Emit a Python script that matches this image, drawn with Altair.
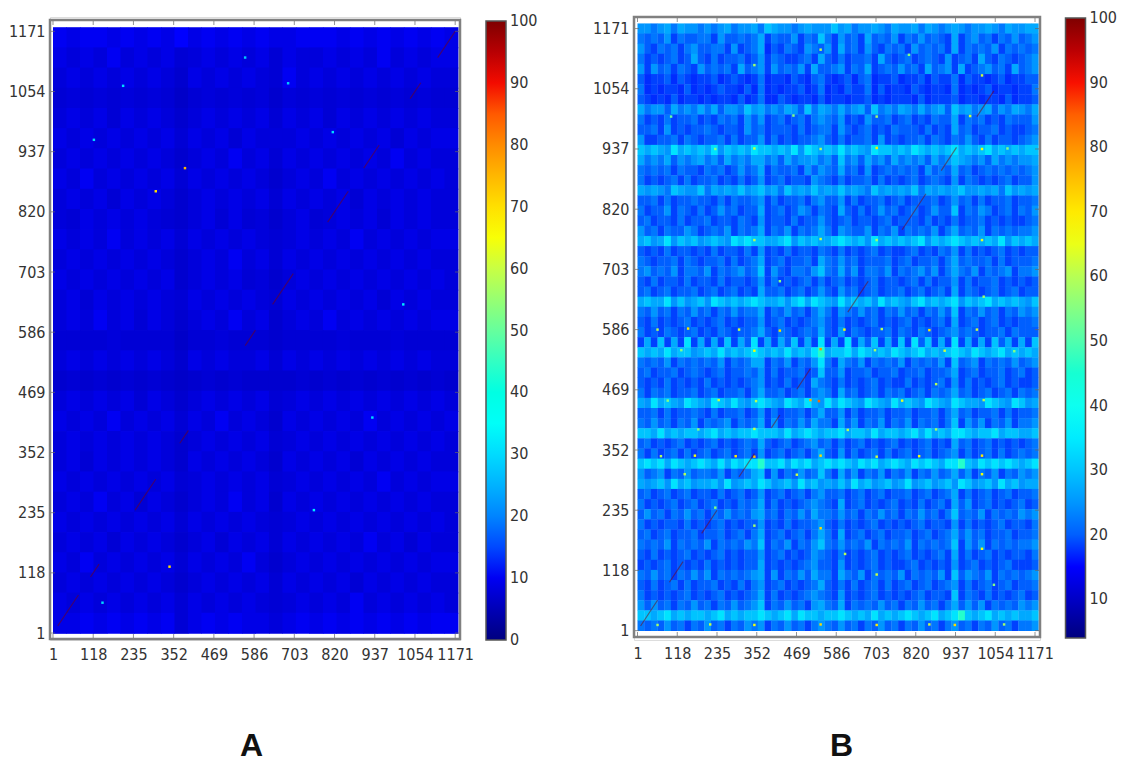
import altair as alt
import pandas as pd

# Jet colormap stops (fraction of the colour range, colour)
JET_FRAC = [0, .11, .125, .35, .375, .64, .66, .89, .91, 1]
JET_COL = ["#00007f", "#0000ff", "#0000ff", "#00fff8", "#0dfff0", "#f0ff0d", "#ffff00", "#ff1500", "#e80000", "#7f0000"]

TICKS = [1, 118, 235, 352, 469, 586, 703, 820, 937, 1054, 1171]
BAR_A = [0.001, 10, 20, 30, 40, 50, 60, 70, 80, 90, 99.999]
BAR_B = [10, 20, 30, 40, 50, 60, 70, 80, 90, 99.999]

# Digit -> percentage identity
LEVEL_A = {"1": 6.5, "2": 7, "3": 7.5, "4": 8, "5": 9, "6": 10, "7": 11, "8": 13, "9": 16}
LEVEL_B = {"1": 17, "2": 18, "3": 20, "4": 22, "5": 25, "6": 27, "7": 30, "8": 34, "9": 46}

# Coarse reading of panel A, top row first
ROWS_A = """
6566565657 5656565566 6565656565
5454645453 4545453544 5454645455
4545454542 5454543645 4545454544
3434343431 3434342434 3434343433
4545354542 4545453545 3545454544
5454545453 5453544454 5454535455
4545454542 4546453545 4545464544
5464545453 5454542454 6454545454
4545354542 4545453545 4535454544
4354545432 4535342453 4545354544
5454645453 5454543454 5464545455
4545454542 4546453545 4545454544
5454545452 4545342454 5454545454
4535454543 5454543545 4545354544
4546453542 4546452454 6454545455
3333433331 3343332333 3433343333
4545454542 5454453545 4545454544
2323232321 2323222232 3232323232
4545453542 4545453454 5454545454
5454645453 5464542545 4546454545
4545454542 4545453454 5454545454
4535454542 5454542545 4535454544
5454545453 4545453454 5454645455
4546453542 4546452545 4545454544
5454545453 5454543454 5454545454
4545354542 4535453545 4546453544
5464545453 5454642454 5454545455
4545454542 4545453545 4535454544
5454545453 5454543454 5464545454
5565656563 5656554565 6565656566
"""

# Coarse reading of panel B, top row first
ROWS_B = """
5545646554 5456455647 6554565557 5645565465 5646545654 5565465566
4343524334 4253343462 4335243742 5342634352 4353432624 5342435345
5324342453 3442523461 3243254352 6342532434 2534342624 3435243434
4232342363 2423342352 4322342632 4233426323 4234325234 2632432345
5253424325 3434263452 5343526334 5243623435 3426345262 3453426345
3122313212 2312321241 2213213421 2313412231 2231322413 2212312233
4121221312 1232213141 2122312412 1322413122 1321221412 1231221224
3212131221 2122131241 1321221312 2122312122 2131222312 2122131223
6455364546 4635547564 5465374654 6456374546 5464563756 4563546546
4232423342 3243425352 3423424543 5232533423 4232433624 3423243335
3342523233 4323325342 3332423442 5323423243 3324232634 2334232234
5223342432 3342423352 4232334532 4233425232 3342432435 3242332345
7676586767 6857676877 6768587676 8676587767 6876767867 6786767677
6454635456 4536454664 5364556453 7453645364 5453645765 4536454556
4343424332 4342353462 4334253543 6342523434 3425343634 2343434345
4232342423 3423242352 3423325432 4233424232 3423432524 3232342335
6565476557 4656575675 6475657565 7565475656 5746565675 5656475656
3342423343 3242433452 4233424533 5242334234 2333423534 2423342334
4233524324 2353423362 3423542432 6324235342 3423533724 3542342435
3423324233 4233243252 3324233532 3423323423 3324232423 3423232234
5342433542 3435243462 4352434642 5433524352 4343524634 3524343445
6756857675 6765878776 6785767667 8767586767 6785767876 7676857676
3232423323 2423324252 3242332432 4232342322 3423243524 2323423233
4323342432 3342423462 3423342643 5342333423 4233424634 3342423334
4534352443 5243453472 5324435743 6352443524 3453524643 5243452445
3242332423 3242332352 4232342423 4232342332 3424233524 2334232323
3423423342 3423423263 3423423532 5342342334 2342342624 3234234233
6766857567 5876767876 6757868765 8676758676 5786767857 6786767657
4353424353 4243534462 4353424642 5435342435 3424353724 3534243545
3242323423 2342323352 3423234532 4232342323 4232342623 4234232334
4232432342 3243233463 2432343632 5243233424 3243234534 3233424333
2627262826 2627263826 2637262826 2826372627 2837262826 2627362627
7676867756 7686767876 7686768967 7868767687 6786767876 8767867676
4343524343 4352434662 4352435842 6435243435 2434352734 5243435345
3423342343 2342334352 4233423733 5233423342 3342334623 4233423423
3232423232 4232323452 3242326432 4232342322 4232342524 2323423223
4243423342 3423342463 3423424542 6342342434 2342434634 2342342434
6586765876 5876865787 6587686586 8765876586 7658765876 6587658756
3342423343 2423342352 4233424633 5242334233 4233424634 2334242334
4353424352 4345243462 5243536442 6352435243 5243424725 3524352445
7768676776 7867677877 7686787677 8677686776 7868676887 6778677667
3423234232 3423234363 2342345342 4234232342 3234232634 2342323234
4242342423 4234234252 3423424632 5242342423 4234234524 2342423434
7878687678 7686878897 7868786787 8768786787 6878768897 6878787678
5345243534 4352434672 5243534742 6352435243 5243534635 2435243545
6567586756 6758567687 5675867565 7586756756 8567567587 5675867566
3423423423 3242342352 3423424533 4234234233 4234234624 2342342334
4232342342 3423243462 4232345432 6234232342 3242342635 2342323423
3534243534 2435343563 4243536443 5342435342 4353424734 3524343545
4232332423 2342323352 3242334532 4232342323 2342332524 2323423324
3423423342 3342342462 3423424642 6234234233 4234234635 3423342334
4343524343 5243435472 4352435743 5343524343 5243434725 3524343445
3242323423 2342323352 3423235432 4232342323 4232342624 2342323324
2323423232 4232323362 3232345332 5232342322 3423232523 4232342223
4353424353 5243434562 5243536442 6435243435 2434352735 4352434345
3242342423 3423242452 3423234632 4242342423 4234234524 2342342334
4232323423 2342323462 4232345432 5232342323 2342332724 3242323423
5353424353 4243534572 4353425643 6243435342 4353424635 3524343545
7767867677 6786767787 6786877677 8767686767 8767867897 6786767667
4343534243 5342435452 4353424543 5342435342 4353424534 2435342445
"""

# Small bright spots seen on the picture: (x, y, value)
SPECKS_A = [(205, 1065, 30), (685, 1070, 28), (120, 960, 30), (385, 905, 75), (300, 860, 70), (815, 975, 30),
            (560, 1120, 28), (1020, 640, 32), (340, 130, 70), (145, 60, 30), (760, 240, 32), (930, 420, 30)]
SPECKS_B = [(60, 586, 60), (150, 588, 70), (300, 586, 62), (420, 584, 72), (610, 586, 66), (720, 587, 60), (860, 585, 70), (1000, 586, 62),
            (130, 546, 55), (345, 545, 66), (540, 548, 80), (700, 546, 58), (905, 545, 62), (1110, 544, 55),
            (90, 448, 55), (240, 449, 62), (350, 447, 60), (510, 449, 78), (535, 447, 84), (780, 448, 64), (1020, 449, 60),
            (180, 392, 55), (345, 393, 62), (620, 391, 60), (880, 392, 58), (70, 340, 60), (170, 341, 66), (290, 340, 70),
            (345, 339, 75), (540, 341, 72), (705, 339, 62), (830, 340, 66), (1015, 341, 70), (140, 305, 60), (470, 304, 62),
            (1015, 305, 66), (345, 205, 58), (540, 200, 72), (612, 150, 60), (705, 110, 62), (1015, 160, 66), (1050, 90, 55),
            (60, 12, 58), (215, 13, 62), (345, 12, 66), (540, 13, 72), (705, 12, 70), (860, 13, 62), (935, 12, 72), (1080, 13, 58),
            (230, 937, 55), (345, 938, 62), (540, 937, 60), (705, 939, 70), (1015, 937, 66), (1090, 938, 55), (345, 760, 60),
            (540, 762, 62), (705, 760, 58), (1015, 760, 64), (100, 1000, 52), (460, 1002, 55), (705, 1000, 58), (980, 1001, 62),
            (345, 1100, 58), (540, 1130, 60), (800, 1120, 55), (1015, 1080, 62), (420, 680, 55), (1020, 650, 58), (880, 480, 60), (230, 240, 55)]

# Visible pieces of the main diagonal (start, end)
DIAG_A = [(15, 75), (110, 135), (240, 300), (370, 395), (560, 590), (640, 700), (800, 860), (905, 950), (1040, 1071), (1120, 1171)]
DIAG_B = [(10, 60), (95, 135), (190, 235), (300, 345), (395, 420), (470, 510), (620, 680), (780, 850), (895, 940), (1000, 1050)]
DIAG_COLOR = "#7f0000"


def cells(text, levels, top):
    rows = [r.replace(" ", "") for r in text.strip().splitlines()]
    h = top / len(rows)
    out = []
    for i, row in enumerate(rows):
        w = top / len(row)
        for j, ch in enumerate(row):
            out.append({"x": 1 + j * w, "x2": 1 + (j + 1.04) * w,
                        "y": 1 + top - (i + 1.04) * h, "y2": 1 + top - i * h,
                        "v": levels[ch]})
    return pd.DataFrame(out)


FONT = "DejaVu Sans Condensed, DejaVu Sans"
FS = 16
TICK_COLOR = "#666666"
CELL_H = 623


def panel(text, levels, specks, diag, xdom, ydom, w, frame_top, frame_bottom, vmin, bar, letter, letter_x, top, legend_x, xpad):
    df = cells(text, levels, top)
    h = frame_bottom - frame_top
    xs = alt.Scale(domain=xdom, nice=False, zero=False)
    ys = alt.Scale(domain=ydom, nice=False, zero=False, range=[frame_bottom, frame_top])
    domain = [vmin + f * (100 - vmin) for f in JET_FRAC]
    cs = alt.Scale(domain=domain, range=JET_COL, clamp=True)
    legend = alt.Legend(type="gradient", orient="none", legendX=legend_x, legendY=frame_top + 1, title=None, values=bar,
                        format=".0f", gradientLength=h, gradientThickness=20, gradientStrokeColor="#555555",
                        gradientStrokeWidth=1.5, labelFont=FONT, labelFontSize=FS, labelColor="#333333",
                        labelOffset=4, labelOverlap=False)
    heat = alt.Chart(df).mark_rect(strokeWidth=0).encode(
        x=alt.X("x:Q", scale=xs, axis=alt.Axis(values=TICKS, grid=False, domain=False, ticks=False,
                labelFont=FONT, labelFontSize=FS, labelColor="#333333", labelPadding=xpad, labelOverlap=False,
                labelFlush=False, format="d",
                title=letter, titleFont="Liberation Sans", titleFontSize=32, titleFontWeight="bold",
                titleColor="#111111", titleBaseline="alphabetic", titleX=letter_x, titleY=115)),
        x2="x2:Q",
        y=alt.Y("y:Q", scale=ys, axis=alt.Axis(values=TICKS, grid=False, domain=False, ticks=False,
                labelFont=FONT, labelFontSize=FS, labelColor="#333333", labelPadding=5, labelOverlap=False,
                labelFlush=False, format="d", title=None)),
        y2="y2:Q",
        color=alt.Color("v:Q", scale=cs, legend=legend),
    )
    sdf = pd.DataFrame(specks, columns=["x", "y", "v"])
    spots = alt.Chart(sdf).mark_square(size=6, opacity=1).encode(
        x=alt.X("x:Q", scale=xs), y=alt.Y("y:Q", scale=ys), color=alt.Color("v:Q", scale=cs, legend=legend))
    ddf = pd.DataFrame([{"x": a, "x2": b, "y": a, "y2": b} for a, b in diag])
    line = alt.Chart(ddf).mark_rule(strokeWidth=1.2, opacity=0.5, color=DIAG_COLOR).encode(
        x=alt.X("x:Q", scale=xs), x2="x2:Q", y=alt.Y("y:Q", scale=ys), y2="y2:Q")
    frame = alt.Chart(pd.DataFrame({"k": [0]})).mark_rect(fillOpacity=0, stroke="#808080", strokeWidth=2.5).encode(
        x=alt.value(0), x2=alt.value(w), y=alt.value(frame_top), y2=alt.value(frame_bottom))
    tdf = pd.DataFrame({"t": TICKS})
    tick_style = dict(color=TICK_COLOR, size=4, thickness=1)
    tb = alt.Chart(tdf).mark_tick(orient="vertical", **tick_style).encode(x=alt.X("t:Q", scale=xs), y=alt.value(frame_bottom - 3))
    tt = alt.Chart(tdf).mark_tick(orient="vertical", **tick_style).encode(x=alt.X("t:Q", scale=xs), y=alt.value(frame_top + 3))
    tl = alt.Chart(tdf).mark_tick(orient="horizontal", **tick_style).encode(y=alt.Y("t:Q", scale=ys), x=alt.value(3))
    tr = alt.Chart(tdf).mark_tick(orient="horizontal", **tick_style).encode(y=alt.Y("t:Q", scale=ys), x=alt.value(w - 3))
    return alt.layer(heat, spots, line, frame, tb, tt, tl, tr).properties(width=w, height=CELL_H)


a = panel(ROWS_A, LEVEL_A, SPECKS_A, DIAG_A, [-7.7, 1185], [-10.6, 1193], 410, 3, 622, 0, BAR_A, "A", 201, 1178, 436, 6)
b = panel(ROWS_B, LEVEL_B, SPECKS_B, DIAG_B, [-9.3, 1185.7], [-11.4, 1193.5], 406, 0, 620, 4, BAR_B, "B", 207, 1180, 431.5, 5)

chart = alt.hconcat(a, b, spacing=52).resolve_scale(color="independent").properties(
    autosize=alt.AutoSizeParams(type="none"),
    padding={"left": 42, "top": 9, "right": 1067, "bottom": 739},
).configure_view(stroke=None).configure(background="white")

chart.save("out.html", embed_options={"renderer": "svg", "actions": False})
